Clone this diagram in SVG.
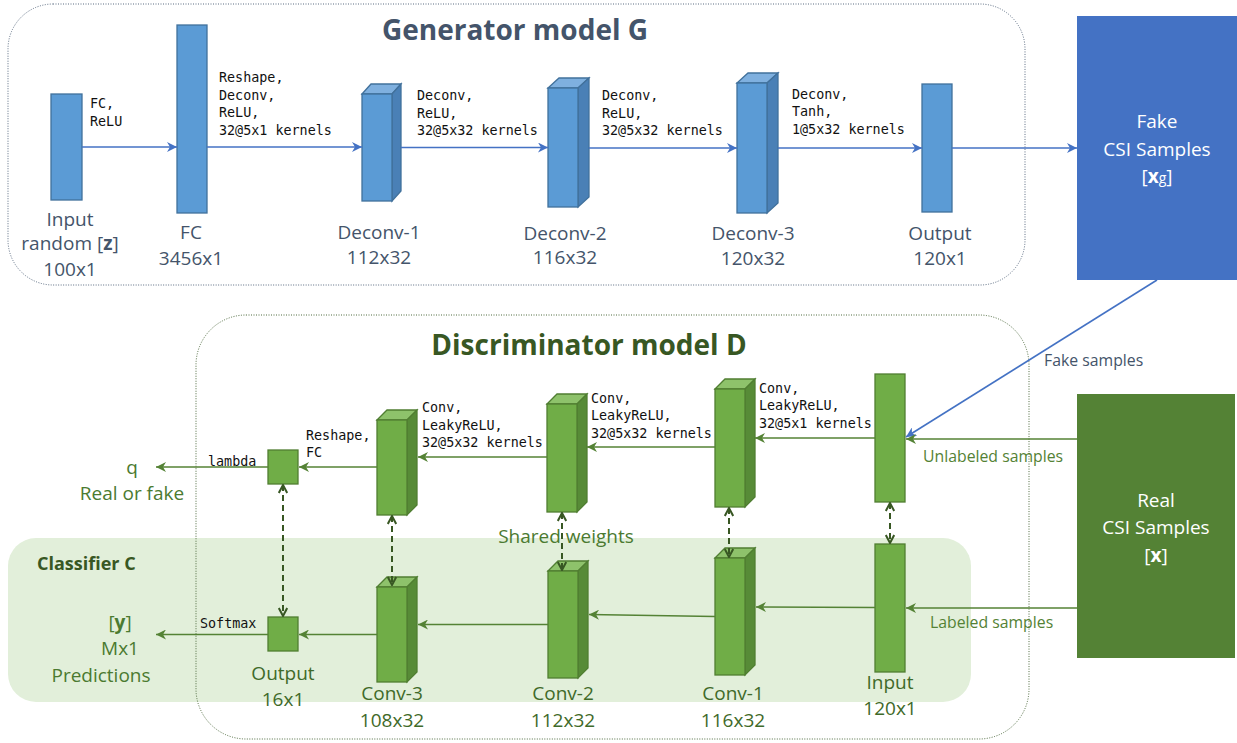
<svg xmlns="http://www.w3.org/2000/svg" width="1237" height="743" viewBox="0 0 1237 743">
<style>
.mono{font-family:"DejaVu Sans Mono","Liberation Mono",monospace;font-size:13.4px;fill:#111}
.gl{font-family:"Open Sans","Noto Sans",sans-serif;font-size:19px;fill:#44546A;text-anchor:middle}
.dl{font-family:"Open Sans","Noto Sans",sans-serif;font-size:19px;fill:#3F6A29;text-anchor:middle}
.dq{font-family:"Open Sans","Noto Sans",sans-serif;font-size:19px;fill:#4B7A30;text-anchor:middle}
.wl{font-family:"Open Sans","Noto Sans",sans-serif;font-size:19px;fill:#fff;text-anchor:middle}
.sm{font-family:"Open Sans","Noto Sans",sans-serif;font-size:15.8px}
.title{font-family:"Open Sans","Noto Sans",sans-serif;font-weight:bold;font-size:28px;text-anchor:middle}
.bf{fill:#5B9BD5;stroke:#41719C;stroke-width:1.3}
.bt{fill:#7FB0DF;stroke:#41719C;stroke-width:1.3}
.bs{fill:#4A80B6;stroke:#41719C;stroke-width:1.3}
.gf{fill:#70AD47;stroke:#507E32;stroke-width:1.3}
.gt{fill:#8EC26B;stroke:#507E32;stroke-width:1.3}
.gs{fill:#578B37;stroke:#507E32;stroke-width:1.3}
.cb{fill:none;stroke:#4472C4;stroke-width:1.6;marker-end:url(#arrB)}
.cg{fill:none;stroke:#548235;stroke-width:1.6;marker-end:url(#arrG)}
.cd{fill:none;stroke:#385723;stroke-width:2;stroke-dasharray:6 4;marker-end:url(#openG);marker-start:url(#openG)}
</style>
<defs>
<marker id="arrB" viewBox="0 0 10 10" refX="10" refY="5" markerWidth="10" markerHeight="10" markerUnits="userSpaceOnUse" orient="auto">
<path d="M0,0 L10,5 L0,10 L3,5 z" fill="#4472C4"/>
</marker>
<marker id="arrG" viewBox="0 0 10 10" refX="10" refY="5" markerWidth="10" markerHeight="10" markerUnits="userSpaceOnUse" orient="auto">
<path d="M0,0 L10,5 L0,10 L3,5 z" fill="#548235"/>
</marker>
<marker id="openG" viewBox="0 0 10 10" refX="9" refY="5" markerWidth="10" markerHeight="10" markerUnits="userSpaceOnUse" orient="auto-start-reverse">
<path d="M1,0.8 L9,5 L1,9.2" fill="none" stroke="#385723" stroke-width="2"/>
</marker>
</defs>
<rect width="1237" height="743" fill="#fff"/>

<!-- backgrounds -->
<rect id="classifier-bg" x="8" y="538" width="963" height="164" rx="28" fill="#E2EFDA"/>
<rect id="generator-frame" x="8" y="4" width="1017" height="281" rx="45" fill="none" stroke="#5A6B80" stroke-width="1" stroke-dasharray="1 1.5"/>
<rect id="discriminator-frame" x="196" y="315" width="833" height="424" rx="50" fill="none" stroke="#4E6A3E" stroke-width="1" stroke-dasharray="1 1.5"/>

<text class="title" x="515" y="40" fill="#44546A">Generator model G</text>
<text class="title" x="589" y="355" font-size="27.6" fill="#385723">Discriminator model D</text>
<text x="37" y="570" font-family="Open Sans, Noto Sans, sans-serif" font-weight="bold" font-size="18" fill="#385723">Classifier C</text>

<!-- edge labels -->
<g id="edge-labels">
<text class="mono" x="90" y="108">FC,</text>
<text class="mono" x="90" y="126">ReLU</text>
<text class="mono" x="219" y="82">Reshape,</text>
<text class="mono" x="219" y="99.5">Deconv,</text>
<text class="mono" x="219" y="117">ReLU,</text>
<text class="mono" x="219" y="135">32@5x1 kernels</text>
<text class="mono" x="417" y="100">Deconv,</text>
<text class="mono" x="417" y="117.5">ReLU,</text>
<text class="mono" x="417" y="135">32@5x32 kernels</text>
<text class="mono" x="602" y="100">Deconv,</text>
<text class="mono" x="602" y="117.5">ReLU,</text>
<text class="mono" x="602" y="135">32@5x32 kernels</text>
<text class="mono" x="792" y="98.5">Deconv,</text>
<text class="mono" x="792" y="116">Tanh,</text>
<text class="mono" x="792" y="134">1@5x32 kernels</text>

<text class="mono" x="759" y="392.5">Conv,</text>
<text class="mono" x="759" y="410">LeakyReLU,</text>
<text class="mono" x="759" y="427.5">32@5x1 kernels</text>
<text class="mono" x="591" y="402.5">Conv,</text>
<text class="mono" x="591" y="420">LeakyReLU,</text>
<text class="mono" x="591" y="437.5">32@5x32 kernels</text>
<text class="mono" x="422" y="412">Conv,</text>
<text class="mono" x="422" y="429.5">LeakyReLU,</text>
<text class="mono" x="422" y="447">32@5x32 kernels</text>
<text class="mono" x="306" y="440">Reshape,</text>
<text class="mono" x="306" y="457">FC</text>
<text class="mono" x="208" y="466">lambda</text>
<text class="mono" x="200" y="628">Softmax</text>

<text class="sm" x="1044" y="366" fill="#44546A">Fake samples</text>
<text class="sm" x="923" y="462" fill="#548235">Unlabeled samples</text>
<text class="sm" x="930" y="628" fill="#548235">Labeled samples</text>
<text class="dq" x="566" y="543">Shared weights</text>

<text class="dq" x="132" y="474">q</text>
<text class="dq" x="132" y="500">Real or fake</text>
<text class="dq" x="120" y="629">[<tspan font-weight="bold">y</tspan>]</text>
<text class="dq" x="120" y="655">Mx1</text>
<text class="dq" x="101" y="682">Predictions</text>
</g>

<!-- generator nodes -->
<g id="g-input">
<rect class="bf" x="51" y="94" width="31" height="106"/>
<text class="gl" x="70" y="226">Input</text>
<text class="gl" x="70" y="250">random [<tspan font-weight="bold">z</tspan>]</text>
<text class="gl" x="70" y="276">100x1</text>
</g>
<g id="g-fc">
<rect class="bf" x="177" y="25" width="30" height="188"/>
<text class="gl" x="191" y="239">FC</text>
<text class="gl" x="191" y="265">3456x1</text>
</g>
<g id="g-deconv1">
<polygon class="bt" points="362,94 371,84 401,84 392,94"/>
<polygon class="bs" points="392,94 401,84 401,191 392,201"/>
<rect class="bf" x="362" y="94" width="30" height="107"/>
<text class="gl" x="379" y="239">Deconv-1</text>
<text class="gl" x="379" y="264">112x32</text>
</g>
<g id="g-deconv2">
<polygon class="bt" points="548,88 559,78 589,78 578,88"/>
<polygon class="bs" points="578,88 589,78 589,197 578,207"/>
<rect class="bf" x="548" y="88" width="30" height="119"/>
<text class="gl" x="565" y="240">Deconv-2</text>
<text class="gl" x="565" y="264">116x32</text>
</g>
<g id="g-deconv3">
<polygon class="bt" points="737,83 748,73 778,73 767,83"/>
<polygon class="bs" points="767,83 778,73 778,203 767,213"/>
<rect class="bf" x="737" y="83" width="30" height="130"/>
<text class="gl" x="753" y="240">Deconv-3</text>
<text class="gl" x="753" y="265">120x32</text>
</g>
<g id="g-output">
<rect class="bf" x="922" y="84" width="30" height="128"/>
<text class="gl" x="940" y="240">Output</text>
<text class="gl" x="940" y="265">120x1</text>
</g>

<g id="fake-csi">
<rect x="1077" y="16" width="160" height="264" fill="#4472C4"/>
<text class="wl" x="1157" y="128">Fake</text>
<text class="wl" x="1157" y="156">CSI Samples</text>
<text class="wl" x="1157" y="183">[<tspan font-weight="bold">x</tspan><tspan font-size="14">g</tspan>]</text>
</g>
<g id="real-csi">
<rect x="1077" y="394" width="158" height="264" fill="#548235"/>
<text class="wl" x="1156" y="507">Real</text>
<text class="wl" x="1156" y="534">CSI Samples</text>
<text class="wl" x="1156" y="562">[<tspan font-weight="bold">x</tspan>]</text>
</g>

<!-- discriminator nodes -->
<g id="d-input">
<rect class="gf" x="875" y="374" width="30" height="128"/>
</g>
<g id="d-conv1">
<polygon class="gt" points="715,389 725,379 755,379 745,389"/>
<polygon class="gs" points="745,389 755,379 755,497 745,507"/>
<rect class="gf" x="715" y="389" width="30" height="118"/>
</g>
<g id="d-conv2">
<polygon class="gt" points="547,404 557,394 587,394 577,404"/>
<polygon class="gs" points="577,404 587,394 587,502 577,512"/>
<rect class="gf" x="547" y="404" width="30" height="108"/>
</g>
<g id="d-conv3">
<polygon class="gt" points="377,420 387,410 417,410 407,420"/>
<polygon class="gs" points="407,420 417,410 417,505 407,515"/>
<rect class="gf" x="377" y="420" width="30" height="95"/>
</g>
<g id="d-output">
<rect class="gf" x="268" y="450" width="30" height="34"/>
</g>

<!-- classifier nodes -->
<g id="c-input">
<rect class="gf" x="875" y="544" width="30" height="128"/>
<text class="dl" x="890" y="689">Input</text>
<text class="dl" x="890" y="715">120x1</text>
</g>
<g id="c-conv1">
<polygon class="gt" points="715,558 725,548 755,548 745,558"/>
<polygon class="gs" points="745,558 755,548 755,665 745,675"/>
<rect class="gf" x="715" y="558" width="30" height="117"/>
<text class="dl" x="733" y="700">Conv-1</text>
<text class="dl" x="733" y="727">116x32</text>
</g>
<g id="c-conv2">
<polygon class="gt" points="548,571 558,561 588,561 578,571"/>
<polygon class="gs" points="578,571 588,561 588,668 578,678"/>
<rect class="gf" x="548" y="571" width="30" height="107"/>
<text class="dl" x="563" y="700">Conv-2</text>
<text class="dl" x="563" y="727">112x32</text>
</g>
<g id="c-conv3">
<polygon class="gt" points="377,587 387,577 417,577 407,587"/>
<polygon class="gs" points="407,587 417,577 417,672 407,682"/>
<rect class="gf" x="377" y="587" width="30" height="95"/>
<text class="dl" x="392" y="700">Conv-3</text>
<text class="dl" x="392" y="727">108x32</text>
</g>
<g id="c-output">
<rect class="gf" x="268" y="617" width="30" height="34"/>
<text class="dl" x="283" y="680">Output</text>
<text class="dl" x="283" y="706">16x1</text>
</g>

<!-- connectors -->
<g id="connectors">
<line class="cb" x1="82" y1="147" x2="177" y2="147"/>
<line class="cb" x1="207" y1="147" x2="362" y2="147"/>
<line class="cb" x1="401" y1="147.5" x2="548" y2="147.5"/>
<line class="cb" x1="589" y1="148" x2="737" y2="148"/>
<line class="cb" x1="778" y1="148" x2="922" y2="148"/>
<line class="cb" x1="952" y1="148" x2="1077" y2="148"/>
<line class="cb" x1="1157" y1="280" x2="906" y2="437"/>

<line class="cg" x1="1077" y1="439" x2="906" y2="439"/>
<line class="cg" x1="875" y1="438" x2="755" y2="438"/>
<line class="cg" x1="715" y1="447" x2="587" y2="447"/>
<line class="cg" x1="547" y1="457" x2="418" y2="457"/>
<line class="cg" x1="377" y1="467" x2="299" y2="467"/>
<line class="cg" x1="268" y1="467" x2="156" y2="467"/>

<line class="cg" x1="1077" y1="608" x2="906" y2="608"/>
<line class="cg" x1="875" y1="607.5" x2="756" y2="607"/>
<line class="cg" x1="715" y1="616.5" x2="589" y2="614.5"/>
<line class="cg" x1="548" y1="624.5" x2="418" y2="624.5"/>
<line class="cg" x1="377" y1="634.5" x2="299" y2="634.5"/>
<line class="cg" x1="268" y1="634.5" x2="156" y2="634.5"/>

<line class="cd" x1="283" y1="485" x2="283" y2="616"/>
<line class="cd" x1="392" y1="516" x2="392" y2="585"/>
<line class="cd" x1="562" y1="513" x2="562" y2="570"/>
<line class="cd" x1="729" y1="508" x2="729" y2="557"/>
<line class="cd" x1="890" y1="503" x2="890" y2="543"/>
</g>
</svg>
